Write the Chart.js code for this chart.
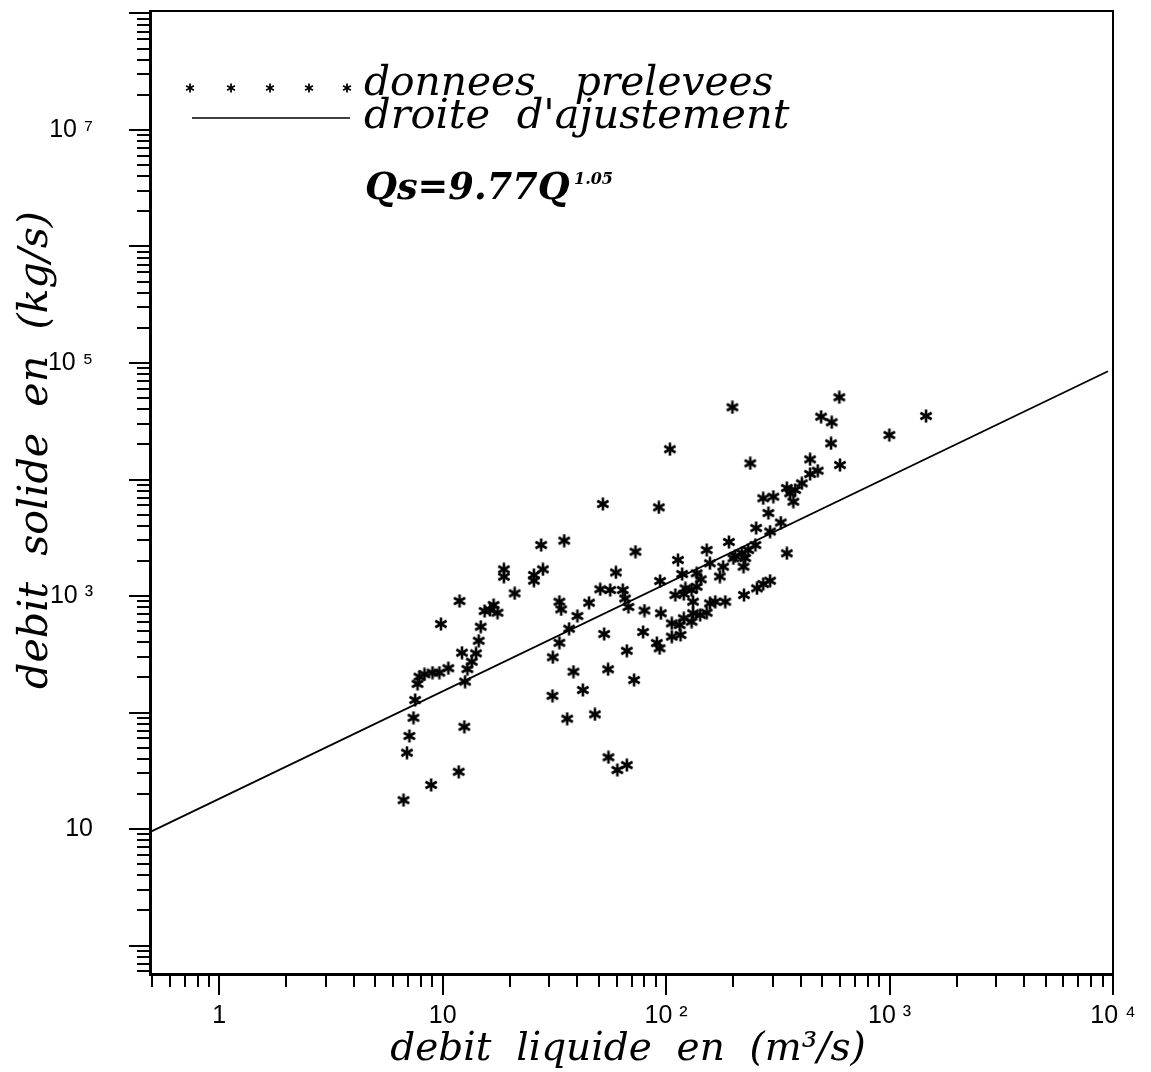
<!DOCTYPE html>
<html>
<head>
<meta charset="utf-8">
<script src="https://cdn.jsdelivr.net/npm/chart.js@4.4.1/dist/chart.umd.min.js"></script>
<style>
  body { margin: 0; background: #fff; }
  canvas { display: block; }
</style>
</head>
<body>
<canvas id="chart" width="1151" height="1072"></canvas>
<script>
// debit liquide (m3/s) et debit solide (kg/s)
const qLiquide = [
  6.68, 6.92, 7.10, 7.40, 7.53, 7.72, 7.87, 8.29, 9.00, 9.67,
  10.6, 8.88, 9.82, 11.8, 12.5, 11.9, 12.2, 12.6, 12.9, 13.5,
  14.1, 14.5, 14.8, 15.4, 16.9, 17.6, 16.3, 18.8, 18.8, 21.0,
  25.6, 25.6, 28.1, 27.6, 35.0, 31.0, 31.1, 33.3, 33.3, 33.9,
  36.1, 36.8, 38.5, 40.1, 42.4, 45.2, 48.0, 52.1, 52.8, 55.0,
  55.2, 60.5, 66.7, 66.7, 71.9, 72.9, 59.6, 50.7, 56.2, 64.0,
  65.5, 67.8, 78.9, 80.0, 90.9, 93.5, 92.8, 94.0, 94.7, 104,
  106, 106, 110, 113, 115, 116, 118, 120, 122, 130,
  120, 132, 132, 130, 137, 143, 142, 152, 152, 157,
  157, 166, 174, 180, 184, 191, 198, 200, 204, 218,
  222, 226, 233, 251, 223, 238, 253, 255, 272, 272,
  287, 292, 292, 302, 326, 347, 347, 359, 371, 405,
  441, 441, 477, 494, 551, 547, 596, 600, 998, 1456,
  137, 378
];
const qSolide = [
  17.7, 45.2, 62.9, 90.2, 128, 176, 203, 213, 220, 220,
  240, 23.9, 575, 31.0, 75.5, 906, 326, 184, 236, 273,
  322, 413, 545, 743, 837, 719, 759, 1695, 1465, 1055,
  1514, 1353, 1695, 2740, 2985, 139, 298, 397, 894, 769,
  88.5, 524, 224, 673, 156, 876, 96.5, 6160, 472, 235,
  41.3, 32.1, 35.4, 339, 190, 2400, 1592, 1142, 1126, 1126,
  952, 805, 491, 751, 395, 356, 5770, 1345, 711, 18200,
  583, 448, 1020, 2037, 564, 463, 1545, 644, 1164, 1126,
  1040, 894, 711, 602, 1567, 1391, 687, 719, 2483, 1910,
  865, 894, 1470, 1785, 894, 2910, 41700, 2108, 2205, 2339,
  1785, 2119, 2483, 2740, 1020, 13770, 3835, 1164, 1268, 6900,
  5155, 3578, 1353, 7115, 4275, 2326, 8455, 7620, 6450, 9270,
  11140, 14900, 11900, 34600, 31000, 20450, 50800, 13310, 24100, 35080,
  1202, 8130
];

// droite d'ajustement (extremites)
const fitQ = [0.5, 9500];
const fitQs = [9.6, 85000];

// graduations
const xLabelValues = [1, 10, 100, 1000, 10000];
const xLabelTexts = ['1', '10', '10 \u00B2', '10 \u00B3', '10 \u2074'];
const yLabelValues = [10, 1000, 100000, 10000000];
const yLabelTexts = ['10', '10 \u00B3', '10 \u2075', '10 \u2077'];

const serif = '"DejaVu Serif", "Liberation Serif", serif';

function logTicks(min, max) {
  const out = [];
  for (let e = -2; e <= 9; e++) {
    for (let m = 1; m <= 9; m++) {
      const v = parseFloat((m * Math.pow(10, e)).toPrecision(6));
      if (v >= min && v <= max) out.push({ value: v });
    }
  }
  return out;
}

function labelFor(values, texts) {
  return function (val) {
    const i = values.findIndex((v) => Math.abs(v - val) / v < 1e-6);
    return i >= 0 ? texts[i] : '';
  };
}

function makeStar(size, lw) {
  const c = document.createElement('canvas');
  c.width = size;
  c.height = size;
  const g = c.getContext('2d');
  g.strokeStyle = '#000';
  g.lineWidth = lw;
  const h = size / 2;
  const r = h - 0.5;
  for (let k = 0; k < 3; k++) {
    const a = Math.PI / 2 + (k * Math.PI) / 3;
    g.beginPath();
    g.moveTo(h + r * Math.cos(a), h + r * Math.sin(a));
    g.lineTo(h - r * Math.cos(a), h - r * Math.sin(a));
    g.stroke();
  }
  return c;
}

const star = makeStar(14, 2.6);
const smallStar = makeStar(10, 1.8);

function fitText(ctx, text, style, target) {
  ctx.font = style + ' 40px ' + serif;
  const w = ctx.measureText(text).width;
  const size = (40 * target) / w;
  ctx.font = style + ' ' + size.toFixed(1) + 'px ' + serif;
  return size;
}

const decorPlugin = {
  id: 'decor',
  afterDraw(chart) {
    const { ctx, chartArea: a, scales } = chart;
    const x = scales.x;
    const y = scales.y;
    ctx.save();
    ctx.strokeStyle = '#000';
    ctx.fillStyle = '#000';

    // graduations longues aux decades
    ctx.lineWidth = 2;
    xLabelValues.forEach((v) => {
      const px = Math.round(x.getPixelForValue(v));
      ctx.beginPath();
      ctx.moveTo(px, a.bottom);
      ctx.lineTo(px, a.bottom + 21);
      ctx.stroke();
    });
    for (let e = 0; e <= 8; e++) {
      const py = Math.round(y.getPixelForValue(Math.pow(10, e)));
      if (py < a.top) continue;
      ctx.beginPath();
      ctx.moveTo(a.left, py);
      ctx.lineTo(a.left - 21, py);
      ctx.stroke();
    }

    // cadre haut et droit
    ctx.lineWidth = 2;
    ctx.beginPath();
    ctx.moveTo(a.left, a.top);
    ctx.lineTo(a.right, a.top);
    ctx.lineTo(a.right, a.bottom);
    ctx.stroke();

    // titres des axes
    ctx.textAlign = 'center';
    ctx.textBaseline = 'alphabetic';
    fitText(ctx, 'debit  liquide  en  (m\u00B3/s)', 'italic', 475);
    ctx.fillText('debit  liquide  en  (m\u00B3/s)', 628, 1060);

    ctx.save();
    ctx.translate(47, 450);
    ctx.rotate(-Math.PI / 2);
    fitText(ctx, 'debit  solide  en  (kg/s)', 'italic', 478);
    ctx.fillText('debit  solide  en  (kg/s)', 0, 0);
    ctx.restore();

    // legende
    [190, 231, 270, 309, 347].forEach((cx) => {
      ctx.drawImage(smallStar, cx - 5, 88 - 5);
    });
    ctx.lineWidth = 1.5;
    ctx.beginPath();
    ctx.moveTo(192, 118);
    ctx.lineTo(350, 118);
    ctx.stroke();

    ctx.textAlign = 'left';
    fitText(ctx, 'donnees   prelevees', 'italic', 410);
    ctx.fillText('donnees   prelevees', 364, 95);
    fitText(ctx, "droite  d'ajustement", 'italic', 425);
    ctx.fillText("droite  d'ajustement", 364, 128);

    // equation
    fitText(ctx, 'Qs=9.77Q', 'italic bold', 205);
    ctx.fillText('Qs=9.77Q', 365, 199);
    ctx.font = 'italic bold 16px ' + serif;
    ctx.fillText('1.05', 574, 184);

    ctx.restore();
  }
};

new Chart(document.getElementById('chart'), {
  type: 'scatter',
  data: {
    datasets: [
      {
        label: 'donnees prelevees',
        data: qLiquide.map((q, i) => ({ x: q, y: qSolide[i] })),
        pointStyle: star,
        showLine: false
      },
      {
        type: 'line',
        label: "droite d'ajustement",
        data: fitQ.map((q, i) => ({ x: q, y: fitQs[i] })),
        borderColor: '#000',
        borderWidth: 1.8,
        pointRadius: 0,
        fill: false
      }
    ]
  },
  options: {
    responsive: false,
    devicePixelRatio: 1,
    animation: false,
    layout: { padding: { top: 11, right: 38, left: 0, bottom: 0 } },
    plugins: {
      legend: { display: false },
      tooltip: { enabled: false }
    },
    scales: {
      x: {
        type: 'logarithmic',
        position: 'bottom',
        min: 0.49,
        max: 10000,
        afterBuildTicks: (s) => { s.ticks = logTicks(0.49, 10000); },
        afterFit: (s) => {
          s.height = 98;
          s.paddingLeft = 0;
          s.paddingRight = 0;
        },
        grid: {
          display: true,
          drawOnChartArea: false,
          drawTicks: true,
          tickLength: 13,
          lineWidth: 2,
          color: '#000'
        },
        border: { display: true, width: 3, color: '#000' },
        ticks: {
          autoSkip: false,
          maxRotation: 0,
          padding: 14,
          color: '#000',
          font: { family: '"Liberation Sans", Arial, sans-serif', size: 25 },
          callback: labelFor(xLabelValues, xLabelTexts)
        }
      },
      y: {
        type: 'logarithmic',
        position: 'left',
        min: 0.57,
        max: 1.05e8,
        afterBuildTicks: (s) => { s.ticks = logTicks(0.57, 1.05e8); },
        afterFit: (s) => {
          s.width = 150;
          s.paddingTop = 0;
          s.paddingBottom = 0;
        },
        grid: {
          display: true,
          drawOnChartArea: false,
          drawTicks: true,
          tickLength: 13,
          lineWidth: 2,
          color: '#000'
        },
        border: { display: true, width: 3, color: '#000' },
        ticks: {
          autoSkip: false,
          padding: 44,
          color: '#000',
          font: { family: '"Liberation Sans", Arial, sans-serif', size: 25 },
          callback: labelFor(yLabelValues, yLabelTexts)
        }
      }
    }
  },
  plugins: [decorPlugin]
});
</script>
</body>
</html>
